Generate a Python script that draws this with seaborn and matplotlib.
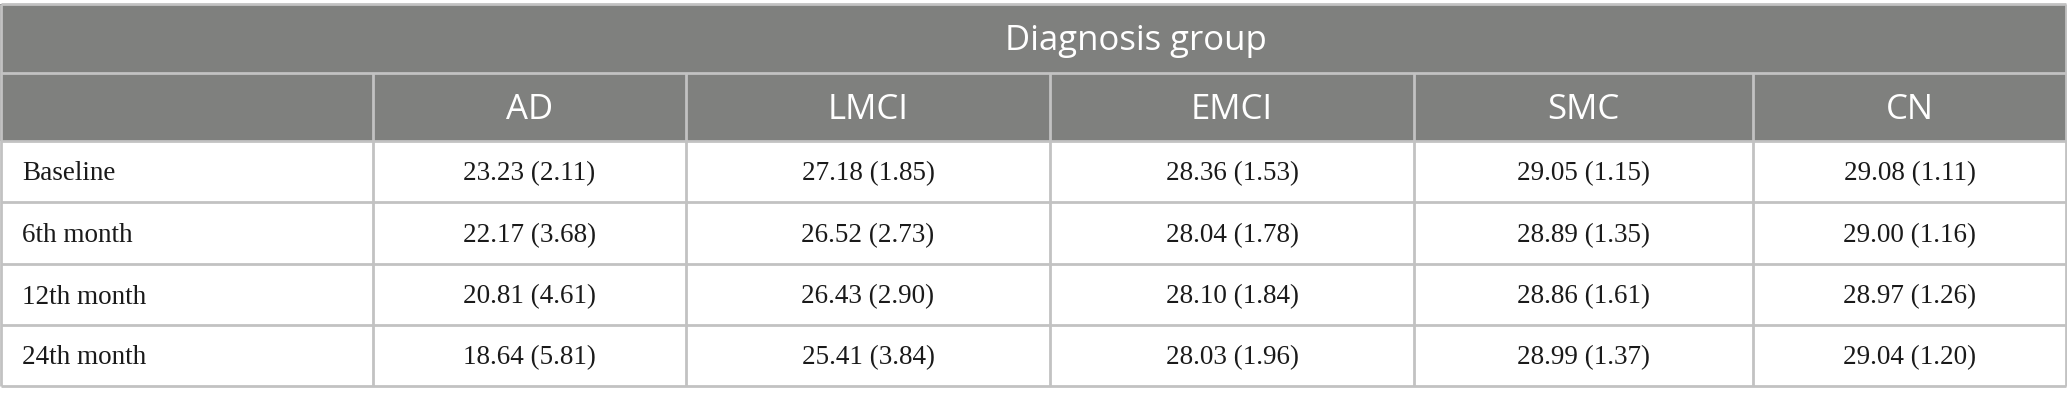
import numpy as np
import pandas as pd
import seaborn as sns
import matplotlib.pyplot as plt
from matplotlib.colors import ListedColormap

# MMSE by diagnosis group, mean (sd)
groups = ['AD', 'LMCI', 'EMCI', 'SMC', 'CN']
timepoints = ['Baseline', '6th month', '12th month', '24th month']

ad_mean = [23.23, 22.17, 20.81, 18.64]
ad_sd = [2.11, 3.68, 4.61, 5.81]
lmci_mean = [27.18, 26.52, 26.43, 25.41]
lmci_sd = [1.85, 2.73, 2.90, 3.84]
emci_mean = [28.36, 28.04, 28.10, 28.03]
emci_sd = [1.53, 1.78, 1.84, 1.96]
smc_mean = [29.05, 28.89, 28.86, 28.99]
smc_sd = [1.15, 1.35, 1.61, 1.37]
cn_mean = [29.08, 29.00, 28.97, 29.04]
cn_sd = [1.11, 1.16, 1.26, 1.20]

means = pd.DataFrame(dict(zip(groups, [ad_mean, lmci_mean, emci_mean, smc_mean, cn_mean])), index=timepoints)
sds = pd.DataFrame(dict(zip(groups, [ad_sd, lmci_sd, emci_sd, smc_sd, cn_sd])), index=timepoints)

# layout in pixels (figure is 2067 x 405 at dpi 100)
col_edges = [0, 373, 686, 1050, 1414, 1753, 2066]
row_edges = [4, 73, 141, 202, 264, 325, 386]
HEADER = '#7f807e'
LINE = '#c2c2c2'
head_font = ['Open Sans', 'DejaVu Sans']
body_font = ['Liberation Serif', 'DejaVu Serif']

sns.set_theme(style='white')

fig = plt.figure(figsize=(20.67, 4.05), dpi=100)
ax = fig.add_axes([0, 0, 1, 1])

# cell fills: 2 header rows grey, body white
role = np.zeros((2 + len(timepoints), 1 + len(groups)))
role[:2] = 1
sns.heatmap(role, ax=ax, cmap=ListedColormap(['white', HEADER]), vmin=0, vmax=1,
            cbar=False, linewidths=0, xticklabels=False, yticklabels=False)
mesh = ax.collections[0]
X, Y = np.meshgrid(col_edges, row_edges)
mesh._coordinates = np.stack([X, Y], axis=-1).astype(float)

ax.set_xlim(0, 2067)
ax.set_ylim(405, 0)
ax.set_axis_off()

# grid lines
ax.hlines(row_edges, 1, 2066, colors=LINE, lw=2)
ax.vlines([1, 2066], row_edges[0], row_edges[-1], colors=LINE, lw=2)
ax.vlines(col_edges[1:-1], row_edges[1], row_edges[-1], colors=LINE, lw=2)

# header text
ax.text(1136, (row_edges[0] + row_edges[1]) / 2 + 12, 'Diagnosis group', color='white',
        fontsize=25, family=head_font, ha='center', va='baseline')
for j, g in enumerate(groups):
    xc = (col_edges[j + 1] + col_edges[j + 2]) / 2
    ax.text(xc, (row_edges[1] + row_edges[2]) / 2 + 12, g, color='white',
            fontsize=25, family=head_font, ha='center', va='baseline')

# body text
for i, t in enumerate(timepoints):
    yb = (row_edges[i + 2] + row_edges[i + 3]) / 2 + 9
    ax.text(22, yb, t, color='#1a1a1a', fontsize=19.5, family=body_font, ha='left', va='baseline')
    for j, g in enumerate(groups):
        xc = (col_edges[j + 1] + col_edges[j + 2]) / 2
        s = f'{means.loc[t, g]:.2f} ({sds.loc[t, g]:.2f})'
        ax.text(xc, yb, s, color='#1a1a1a', fontsize=19.5, family=body_font, ha='center', va='baseline')

fig.savefig('out.png', dpi=100, facecolor='white')
